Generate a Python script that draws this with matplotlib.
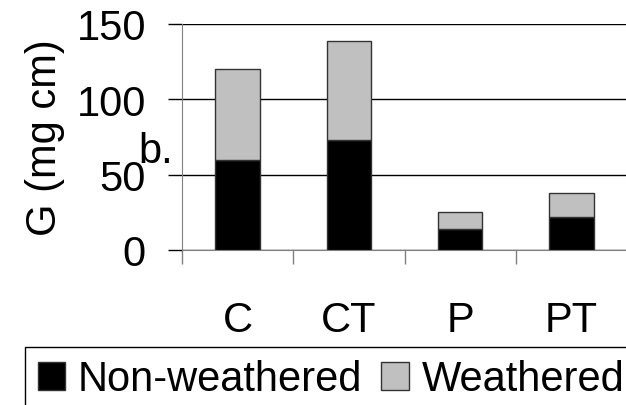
import numpy as np
import matplotlib
matplotlib.use("Agg")
import matplotlib.pyplot as plt
from matplotlib.ticker import FixedLocator

plt.rcParams['font.family'] = ['Liberation Sans', 'DejaVu Sans']

categories = ['C', 'CT', 'P', 'PT']
non_weathered = [60, 73, 14, 22]
weathered = [60, 66, 11, 16]

fs = 30
x = np.arange(len(categories))

fig = plt.figure(figsize=(6.26, 4.06), dpi=100)
ax = fig.add_axes([182/626, 1 - 251/406, 445/626, 226/406])

ax.bar(x, non_weathered, width=0.4, color='black', edgecolor='#333333',
       linewidth=1, label='Non-weathered', zorder=3)
ax.bar(x, weathered, width=0.4, bottom=non_weathered, color='#c0c0c0',
       edgecolor='#333333', linewidth=1, label='Weathered', zorder=3)

ax.set_xlim(-0.5, 3.5)
ax.set_ylim(0, 150)
ax.set_yticks([0, 50, 100, 150])
ax.yaxis.grid(True, color='black', linewidth=1)
ax.set_axisbelow(True)

ax.set_xticks(x)
ax.set_xticklabels(categories)
ax.xaxis.set_minor_locator(FixedLocator([-0.5, 0.5, 1.5, 2.5]))
ax.tick_params(axis='x', which='major', length=0, pad=36, labelsize=fs)
ax.tick_params(axis='x', which='minor', length=10, width=1, color='#808080', direction='out')
ax.tick_params(axis='y', length=10, width=1, color='black', pad=16, labelsize=fs)

for s in ['top', 'right']:
    ax.spines[s].set_visible(False)
ax.spines['left'].set_color('#808080')
ax.spines['bottom'].set_color('#808080')

ax.set_ylabel('G (mg cm)', fontsize=fs)
ax.yaxis.set_label_coords(-0.262, 0.5)

ax.text(-0.099, 0.39, 'b.', transform=ax.transAxes, fontsize=fs, va='baseline')

leg = fig.legend(loc='upper left', bbox_to_anchor=(25/626, 1 - 348/406), ncol=2,
                 fontsize=fs, frameon=True, fancybox=False, edgecolor='black',
                 framealpha=1, borderaxespad=0, borderpad=0.3,
                 handlelength=0.67, handleheight=0.67, handletextpad=0.3,
                 columnspacing=0.45)
leg.get_frame().set_linewidth(1)

fig.savefig('out.png', dpi=100)
